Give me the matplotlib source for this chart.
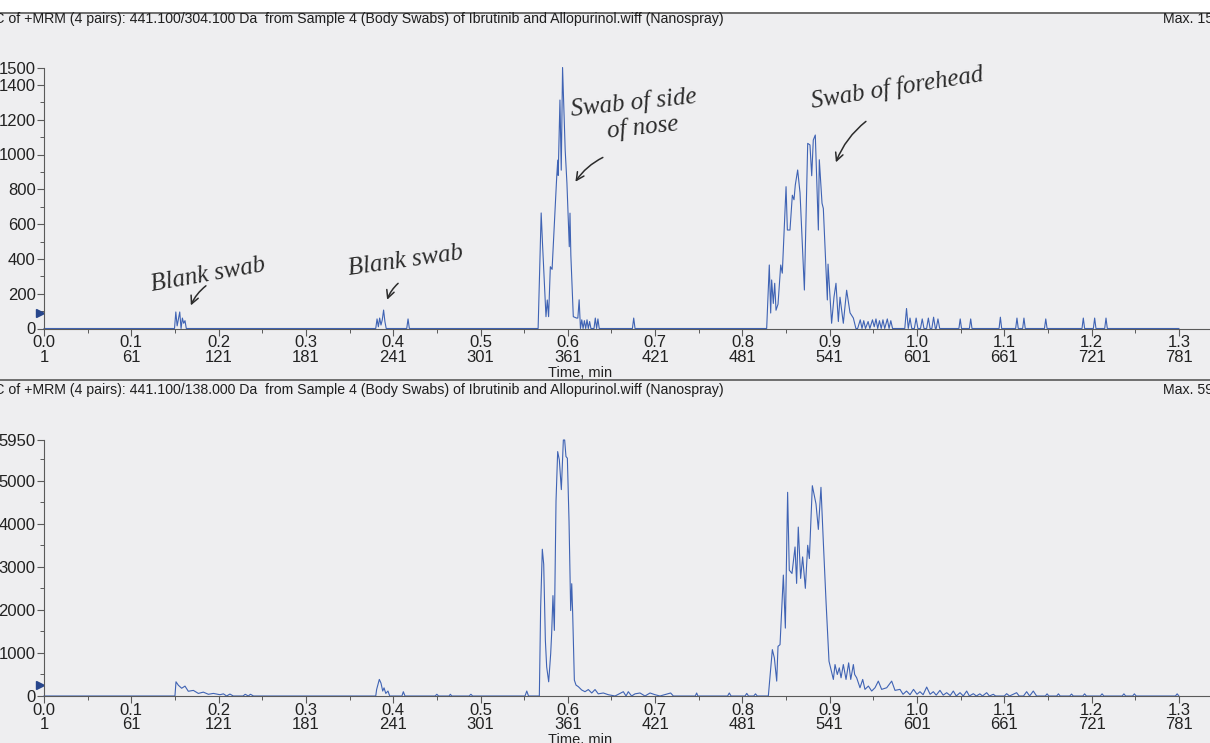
import matplotlib.pyplot as plt
from matplotlib.patches import Rectangle
from matplotlib.lines import Line2D
from matplotlib.ticker import MultipleLocator
import matplotlib.transforms as mtransforms

plt.rcParams['font.family'] = ['Liberation Sans', 'DejaVu Sans']

# ---------------- data (time in min, intensity in cps) ----------------
# upper XIC 441.100/304.100 Da
top_blank1_t = [0.0, 0.1495, 0.151, 0.1525, 0.154, 0.1555, 0.157, 0.1585, 0.160, 0.1615, 0.163]
top_blank1_i = [0, 0, 95, 15, 55, 95, 0, 60, 30, 45, 0]
top_blank2_t = [0.380, 0.3815, 0.383, 0.3845, 0.386, 0.3875, 0.389, 0.3905, 0.392, 0.4155, 0.417, 0.4185]
top_blank2_i = [0, 55, 10, 60, 20, 50, 106, 40, 0, 0, 55, 0]
top_nose_t = [0.566, 0.5695, 0.571, 0.575, 0.5765, 0.578, 0.580, 0.582, 0.5873, 0.5885, 0.589,
              0.591, 0.5925, 0.594, 0.597, 0.599, 0.6017, 0.6025, 0.6035, 0.6063, 0.610, 0.6115,
              0.613, 0.6145, 0.616, 0.6175, 0.619, 0.6205, 0.622, 0.6235, 0.625, 0.6265, 0.630,
              0.6315, 0.633, 0.6345, 0.636, 0.674, 0.6755, 0.677]
top_nose_i = [0, 664, 490, 68, 164, 68, 355, 340, 872, 968, 880,
              1313, 910, 1500, 1026, 835, 470, 663, 420, 68, 60, 60,
              165, 0, 50, 0, 45, 0, 50, 0, 40, 0, 0,
              60, 0, 55, 0, 0, 60, 0]
top_head_t = [0.8278, 0.8308, 0.8324, 0.8335, 0.8354, 0.8370, 0.8385, 0.8408, 0.8439, 0.8457,
              0.8500, 0.8515, 0.8545, 0.8572, 0.8591, 0.8606, 0.8633, 0.8660, 0.8710, 0.8748,
              0.8774, 0.8794, 0.8812, 0.8835, 0.8870, 0.8881, 0.8912, 0.8927, 0.8973, 0.8981,
              0.9022, 0.9049, 0.9072, 0.9099, 0.9118, 0.9156, 0.9194, 0.9233, 0.9271, 0.930]
top_head_i = [0, 365, 89, 279, 144, 260, 105, 140, 365, 318,
              815, 566, 566, 766, 740, 825, 911, 780, 221, 1064,
              1055, 878, 1083, 1112, 566, 970, 720, 690, 164, 370,
              30, 180, 260, 40, 180, 30, 220, 90, 60, 0]
top_tail_t = [0.932, 0.935, 0.937, 0.939, 0.941, 0.944, 0.946, 0.949, 0.951, 0.953, 0.955, 0.957,
              0.959, 0.961, 0.963, 0.966, 0.968, 0.970, 0.972, 0.986, 0.988, 0.990, 0.992, 0.994,
              0.997, 0.999, 1.001, 1.004, 1.006, 1.008, 1.011, 1.013, 1.015, 1.017, 1.019, 1.021,
              1.022, 1.024, 1.026, 1.048, 1.0495, 1.051, 1.060, 1.0615, 1.063, 1.094, 1.0955, 1.097,
              1.113, 1.1145, 1.116, 1.121, 1.1225, 1.124, 1.146, 1.1475, 1.149, 1.189, 1.1905, 1.192,
              1.202, 1.2035, 1.205, 1.215, 1.2165, 1.218, 1.30]
top_tail_i = [0, 50, 0, 45, 0, 40, 0, 50, 10, 55, 0, 45,
              0, 50, 0, 55, 0, 45, 0, 0, 115, 0, 60, 0,
              0, 60, 0, 0, 55, 0, 0, 60, 0, 0, 65, 0,
              0, 55, 0, 0, 55, 0, 0, 55, 0, 0, 65, 0,
              0, 60, 0, 0, 60, 0, 0, 55, 0, 0, 60, 0,
              0, 60, 0, 0, 60, 0, 0]

# lower XIC 441.100/138.000 Da
bot_blank1_t = [0.0, 0.150, 0.1512, 0.1539, 0.1577, 0.1615, 0.1653, 0.1711, 0.1768, 0.1825, 0.1883,
                0.1940, 0.2016, 0.2055, 0.2092, 0.213, 0.2168, 0.228, 0.2305, 0.234, 0.2365, 0.240]
bot_blank1_i = [0, 0, 330, 250, 180, 230, 110, 130, 60, 90, 40,
                60, 30, 50, 0, 45, 0, 0, 40, 0, 40, 0]
bot_blank2_t = [0.380, 0.381, 0.3841, 0.386, 0.388, 0.3895, 0.3915, 0.394, 0.396, 0.410, 0.4116, 0.4135,
                0.448, 0.450, 0.452, 0.464, 0.4655, 0.467, 0.487, 0.489, 0.491, 0.551, 0.553, 0.555]
bot_blank2_i = [0, 150, 386, 300, 115, 190, 60, 115, 0, 0, 100, 0,
                0, 40, 0, 0, 40, 0, 0, 40, 0, 0, 115, 0]
bot_nose_t = [0.5674, 0.5689, 0.5708, 0.5724, 0.5743, 0.5758, 0.5781, 0.5804, 0.5815, 0.5830,
              0.5846, 0.5865, 0.5884, 0.5903, 0.5926, 0.5949, 0.5964, 0.5979, 0.5995, 0.6014,
              0.6033, 0.6045, 0.6056, 0.6075, 0.6094, 0.6121, 0.6159, 0.6197, 0.6235, 0.6274,
              0.6312, 0.6349, 0.6407, 0.6464, 0.6541, 0.6636, 0.6667, 0.6693, 0.6731, 0.677,
              0.6827, 0.6884, 0.6942, 0.6999, 0.7056, 0.7178, 0.7209, 0.746, 0.7476, 0.749,
              0.783, 0.785, 0.787, 0.803, 0.805, 0.807, 0.813, 0.815, 0.817]
bot_nose_i = [0, 2063, 3411, 3064, 1293, 677, 330, 985, 1448, 2333,
              1525, 4527, 5681, 5488, 4797, 5950, 5950, 5566, 5527, 4065,
              1986, 2610, 1910, 370, 254, 216, 140, 100, 150, 70,
              150, 50, 70, 30, 0, 100, 0, 100, 0, 50,
              70, 0, 70, 30, 0, 70, 0, 0, 70, 0,
              0, 70, 0, 0, 60, 0, 0, 50, 0]
bot_head_t = [0.8297, 0.8343, 0.8366, 0.8393, 0.8408, 0.8431, 0.8469, 0.8492, 0.8518, 0.8537,
              0.8568, 0.8603, 0.8621, 0.8640, 0.8667, 0.8690, 0.8721, 0.8748, 0.8767, 0.8801,
              0.8843, 0.8870, 0.8900, 0.8927, 0.8958, 0.8992, 0.9042, 0.9061, 0.9087, 0.9110,
              0.9130, 0.9156, 0.9187, 0.9217, 0.9241, 0.9271, 0.9286, 0.9309, 0.9347, 0.9378,
              0.9404, 0.9443, 0.9481, 0.9519, 0.9557, 0.9595, 0.9653, 0.9710, 0.9748]
bot_head_i = [0, 1078, 885, 346, 1155, 1193, 2810, 1578, 4734, 2925,
              2848, 3464, 2617, 3926, 2733, 3233, 2502, 3503, 3195, 4888,
              4465, 3872, 4850, 3580, 2194, 808, 385, 731, 500, 654,
              423, 731, 385, 770, 385, 731, 500, 423, 192, 385,
              154, 231, 115, 192, 346, 154, 192, 346, 131]
bot_decay_t = [0.9805, 0.984, 0.988, 0.992, 0.996, 1.000, 1.0034, 1.007, 1.0111, 1.015, 1.0187,
               1.022, 1.0263, 1.030, 1.034, 1.038, 1.0416, 1.045, 1.0493, 1.053, 1.0569, 1.060,
               1.0645, 1.068, 1.072, 1.075, 1.0798, 1.083, 1.0874, 1.090, 1.100, 1.1027, 1.106,
               1.1141, 1.117, 1.122, 1.1256, 1.129, 1.1332, 1.137]
bot_decay_i = [154, 40, 115, 30, 154, 40, 100, 30, 208, 40, 100,
               20, 131, 20, 77, 10, 115, 0, 77, 0, 115, 0,
               54, 0, 50, 0, 77, 0, 40, 0, 0, 54, 0,
               77, 0, 0, 100, 0, 115, 0]
bot_tail_t = [1.147, 1.149, 1.151, 1.160, 1.162, 1.164, 1.175, 1.177, 1.179, 1.190, 1.192, 1.194,
              1.210, 1.212, 1.214, 1.235, 1.237, 1.239, 1.247, 1.249, 1.251, 1.296, 1.298, 1.300]
bot_tail_i = [0, 50, 0, 0, 50, 0, 0, 45, 0, 0, 50, 0,
              0, 50, 0, 0, 50, 0, 0, 50, 0, 0, 50, 0]

time_ticks = [0.0, 0.1, 0.2, 0.3, 0.4, 0.5, 0.6, 0.7, 0.8, 0.9, 1.0, 1.1, 1.2, 1.3]
cycle_ticks = [1, 61, 121, 181, 241, 301, 361, 421, 481, 541, 601, 661, 721, 781]
top_yticks = [0, 200, 400, 600, 800, 1000, 1200, 1400, 1500]
bot_yticks = [0, 1000, 2000, 3000, 4000, 5000, 5950]
top_max, bot_max = 1500, 5950
top_level, bot_level = 90, 250

top_title = "XIC of +MRM (4 pairs): 441.100/304.100 Da  from Sample 4 (Body Swabs) of Ibrutinib and Allopurinol.wiff (Nanospray)"
bot_title = "XIC of +MRM (4 pairs): 441.100/138.000 Da  from Sample 4 (Body Swabs) of Ibrutinib and Allopurinol.wiff (Nanospray)"

top_t = top_blank1_t + top_blank2_t + top_nose_t + top_head_t + top_tail_t
top_i = top_blank1_i + top_blank2_i + top_nose_i + top_head_i + top_tail_i
bot_t = bot_blank1_t + bot_blank2_t + bot_nose_t + bot_head_t + bot_decay_t + bot_tail_t
bot_i = bot_blank1_i + bot_blank2_i + bot_nose_i + bot_head_i + bot_decay_i + bot_tail_i

# ---------------- figure ----------------
W, H = 1210, 743
BG = '#eeeef0'
LINE = '#3f63b4'
AX = '#5a5a5a'

fig = plt.figure(figsize=(W / 100, H / 100), dpi=100, facecolor=BG)
fig.add_artist(Rectangle((0, 1 - 12 / H), 1, 12 / H, transform=fig.transFigure,
                         facecolor='white', edgecolor='none'))
for py in (12.5, 380):
    fig.add_artist(Line2D([0, 1], [1 - py / H, 1 - py / H], transform=fig.transFigure,
                          color='#6e6e6e', lw=1.4))


def px2fig(x, y):
    return x / W, 1 - y / H


def setup(ax, ymax, yticks, minor, title, maxtext, ty):
    ax.set_facecolor('none')
    ax.set_xlim(0, (W - 44) / 873)
    ax.set_ylim(0, ymax)
    for s in ('top', 'right'):
        ax.spines[s].set_visible(False)
    for s in ('left', 'bottom'):
        ax.spines[s].set_color(AX)
        ax.spines[s].set_linewidth(0.8)
    ax.set_xticks(time_ticks)
    ax.set_xticklabels([f"{t:.1f}\n{c}" for t, c in zip(time_ticks, cycle_ticks)],
                       linespacing=0.95)
    ax.xaxis.set_minor_locator(MultipleLocator(0.05))
    ax.set_yticks(yticks)
    ax.set_yticklabels([str(v) for v in yticks])
    ax.yaxis.set_minor_locator(MultipleLocator(minor))
    ax.tick_params(axis='both', which='major', length=5, width=0.8, color=AX,
                   labelsize=12, labelcolor='#222222', pad=1)
    ax.tick_params(axis='x', which='major', pad=0)
    ax.tick_params(axis='both', which='minor', length=3, width=0.7, color=AX)
    ax.set_xlabel("Time, min", fontsize=10.5, color='#222222')
    ax.xaxis.set_label_coords(0.46, -0.145)
    fx, fy = px2fig(724, ty)
    fig.text(fx, fy, title, ha='right', va='center', fontsize=10.2, color='#1e1e1e')
    fx, fy = px2fig(1163, ty)
    fig.text(fx, fy, maxtext, ha='left', va='center', fontsize=10.2, color='#1e1e1e')


l, b = px2fig(44, 328.5)
_, t = px2fig(44, 67.5)
ax1 = fig.add_axes([l, b, 1 - l, t - b])
l, b = px2fig(44, 696)
_, t = px2fig(44, 440)
ax2 = fig.add_axes([l, b, 1 - l, t - b])

setup(ax1, top_max, top_yticks, 100, top_title, "Max. 1500.0 cps.", 19)
setup(ax2, bot_max, bot_yticks, 500, bot_title, "Max. 5950.0 cps.", 390)

ax1.plot(top_t, top_i, color=LINE, lw=0.8, clip_on=False)
ax2.plot(bot_t, bot_i, color=LINE, lw=0.8, clip_on=False)

# baseline markers
for ax, lev in ((ax1, top_level), (ax2, bot_level)):
    tr = mtransforms.blended_transform_factory(ax.transAxes, ax.transData)
    ax.plot([-0.0035], [lev], marker='>', ms=6, color='#27468c', transform=tr, clip_on=False)

# handwritten notes
hand = dict(family='Liberation Serif', style='italic', color='#2b2b2b', fontsize=18)
arrow = dict(arrowstyle='->', color='#2b2b2b', lw=1.1, mutation_scale=14,
             connectionstyle='arc3,rad=0.15')
ax1.text(0.188, 305, "Blank swab", rotation=10, ha='center', va='center', **hand)
ax1.annotate('', xy=(0.167, 118), xytext=(0.188, 255), arrowprops=arrow)
ax1.text(0.414, 390, "Blank swab", rotation=8, ha='center', va='center', **hand)
ax1.annotate('', xy=(0.392, 150), xytext=(0.408, 270), arrowprops=arrow)
ax1.text(0.677, 1225, "Swab of side\n  of nose", rotation=6, ha='center', va='center',
         linespacing=1.1, **hand)
ax1.annotate('', xy=(0.607, 830), xytext=(0.643, 990), arrowprops=arrow)
ax1.text(0.977, 1380, "Swab of forehead", rotation=9, ha='center', va='center', **hand)
ax1.annotate('', xy=(0.906, 940), xytext=(0.944, 1200), arrowprops=arrow)

fig.savefig("out.png", dpi=100, facecolor=BG)
